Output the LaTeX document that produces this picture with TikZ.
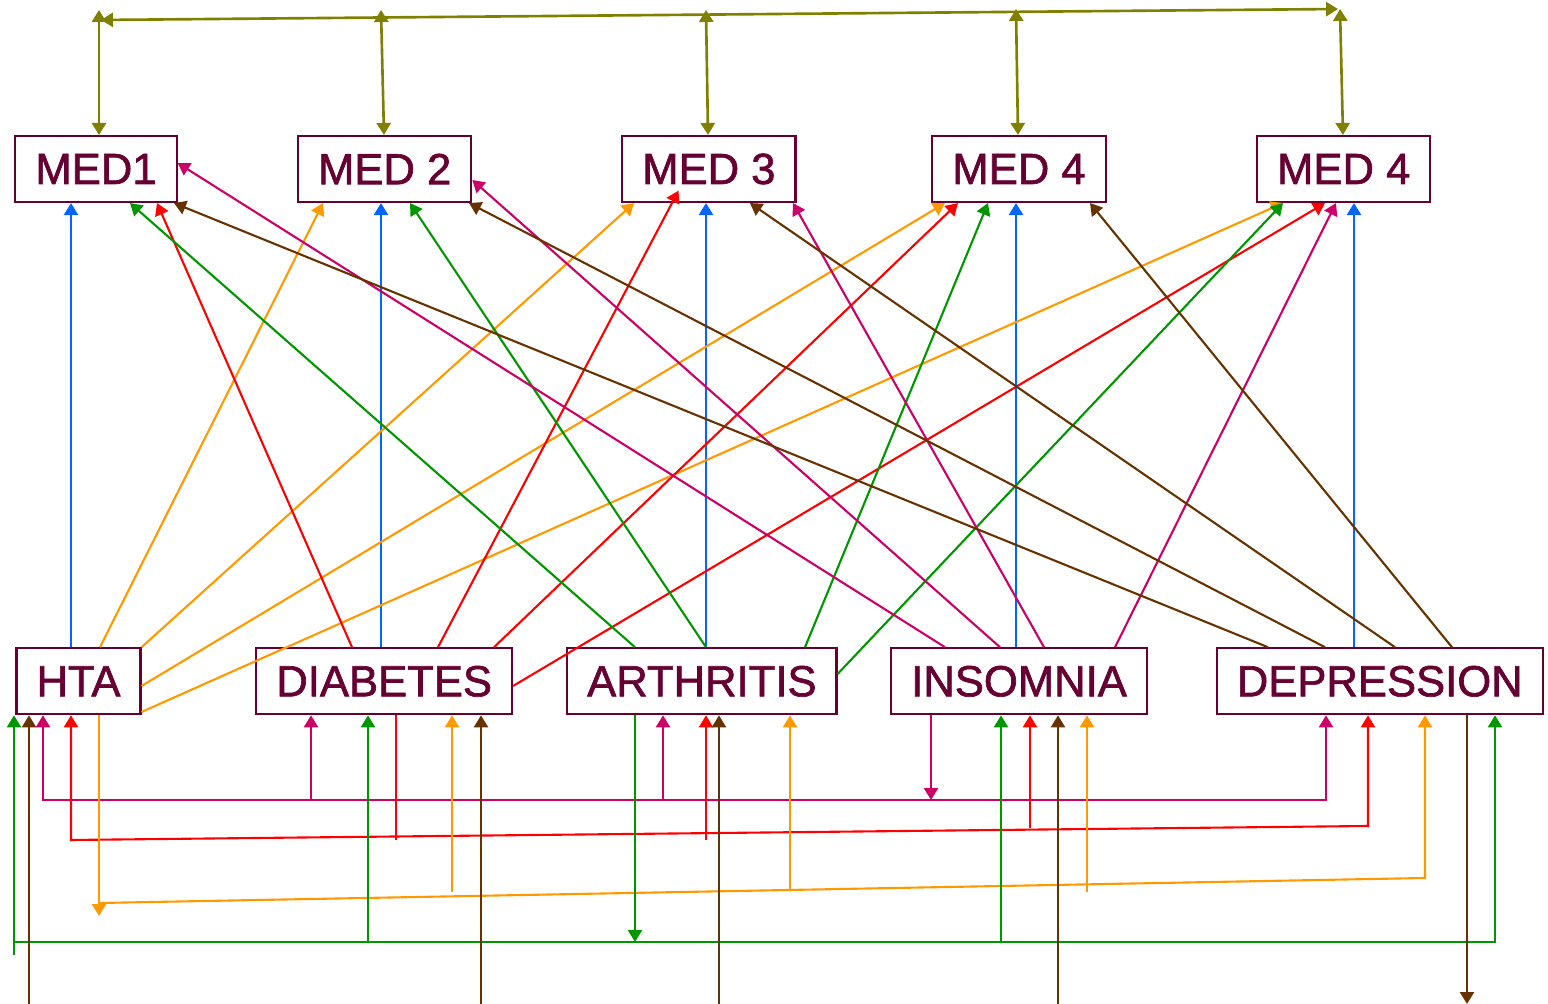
\documentclass[tikz,border=0pt]{standalone}
\usepackage{fontspec}
\setmainfont{Liberation Sans}[FakeBold=1.5]
\usetikzlibrary{arrows.meta,positioning}

\definecolor{wine}{RGB}{102,0,51}
\definecolor{linkblue}{RGB}{0,102,255}
\definecolor{linkorange}{RGB}{255,153,0}
\definecolor{linkred}{RGB}{255,0,0}
\definecolor{linkgreen}{RGB}{0,150,0}
\definecolor{linkmagenta}{RGB}{204,0,102}
\definecolor{linkbrown}{RGB}{102,51,0}
\definecolor{linkolive}{RGB}{128,128,0}

\begin{document}
\begin{tikzpicture}[x=0.01cm,y=-0.01cm,>={Triangle[length=3.4pt,width=4pt]},font=\fontsize{12.4}{14}\selectfont]

    % Define node styles
    \tikzstyle{med_block} = [draw=wine, line width=0.6pt, text=wine, minimum height=0.66cm, inner xsep=0.2cm, text centered]
    \tikzstyle{disease_block} = [draw=wine, line width=0.6pt, text=wine, minimum height=0.66cm, inner xsep=0.2cm, text centered]
    \tikzstyle{olive_link} = [<->, linkolive, line width=0.75pt]
    \tikzstyle{blue_link} = [->, linkblue, line width=0.6pt]
    \tikzstyle{orange_link} = [->, linkorange, line width=0.6pt]
    \tikzstyle{red_link} = [->, linkred, line width=0.6pt]
    \tikzstyle{green_link} = [->, linkgreen, line width=0.6pt]
    \tikzstyle{magenta_link} = [->, linkmagenta, line width=0.6pt]
    \tikzstyle{brown_link} = [->, linkbrown, line width=0.6pt]

    \useasboundingbox (0,0) rectangle (1548,1004);

    % Draw nodes
    \node [med_block] (med1) at (96,169) {MED1};
    \node [med_block, right of=med1, xshift=1.885cm] (med2) {MED 2};
    \node [med_block, right of=med2, xshift=2.24cm] (med3) {MED 3};
    \node [med_block, right of=med3, xshift=2.1cm] (med4a) {MED 4};
    \node [med_block, right of=med4a, xshift=2.245cm] (med4b) {MED 4};

    \node [disease_block, below of=med1, xshift=-0.175cm, yshift=-4.12cm] (hta) {HTA};
    \node [disease_block, right of=hta, xshift=2.055cm] (diabetes) {DIABETES};
    \node [disease_block, right of=diabetes, xshift=2.175cm] (arthritis) {ARTHRITIS};
    \node [disease_block, right of=arthritis, xshift=2.17cm] (insomnia) {INSOMNIA};
    \node [disease_block, right of=insomnia, xshift=2.605cm] (depression) {DEPRESSION};

    % Top links between medicines
    \coordinate (top_left) at (101,20);
    \coordinate (top_right) at (1338,9);
    \draw [olive_link] (top_right) -- (top_left);
    \draw [olive_link] (99,10) -- (med1.north -| 99,0);
    \draw [olive_link] (381,10) -- (med2.north -| 384,0);
    \draw [olive_link] (706,10) -- (med3.north -| 708,0);
    \draw [olive_link] (1016,9) -- (med4a.north -| 1018,0);
    \draw [olive_link] (1340,9) -- (med4b.north -| 1343,0);

    % Draw arrows from diseases to medicines
    \draw [blue_link] (hta.north -| 71,0) -- (med1.south -| 71,0);
    \draw [blue_link] (diabetes.north -| 381,0) -- (med2.south -| 381,0);
    \draw [blue_link] (arthritis.north -| 706,0) -- (med3.south -| 706,0);
    \draw [blue_link] (insomnia.north -| 1016,0) -- (med4a.south -| 1016,0);
    \draw [blue_link] (depression.north -| 1354,0) -- (med4b.south -| 1354,0);

    \draw [orange_link] (hta.north -| 100,0) -- (med2.south -| 323,0);
    \draw [orange_link] (hta.north east) -- (med3.south -| 634,0);
    \draw [orange_link] (hta.east |- 0,686) -- (med4a.south -| 945,0);
    \draw [orange_link] (hta.east |- 0,712) -- (med4b.south -| 1283,0);

    \draw [red_link] (diabetes.north -| 352,0) -- (med1.south -| 157,0);
    \draw [red_link, shorten >=-0.14cm] (diabetes.north -| 438,0) -- (med3.south -| 672,0);
    \draw [red_link] (diabetes.north -| 494,0) -- (med4a.south -| 958,0);
    \draw [red_link] (diabetes.east |- 0,686) -- (med4b.south -| 1325,0);

    \draw [green_link] (arthritis.north -| 635,0) -- (med1.south -| 130,0);
    \draw [green_link] (arthritis.north -| 706,0) -- (med2.south -| 410,0);
    \draw [green_link] (arthritis.north -| 805,0) -- (med4a.south -| 988,0);
    \draw [green_link] (arthritis.east |- 0,674) -- (med4b.south -| 1283,0);

    \draw [magenta_link] (insomnia.north -| 945,0) -- (med1.east |- 0,163);
    \draw [magenta_link] (insomnia.north -| 1000,0) -- (med2.east |- 0,180);
    \draw [magenta_link] (insomnia.north -| 1044,0) -- (med3.south -| 793,0);
    \draw [magenta_link] (insomnia.north -| 1115,0) -- (med4b.south -| 1336,0);

    \draw [brown_link] (depression.north -| 1268,0) -- (med1.south -| 174,0);
    \draw [brown_link] (depression.north -| 1325,0) -- (med2.south -| 469,0);
    \draw [brown_link] (depression.north -| 1395,0) -- (med3.south -| 750,0);
    \draw [brown_link] (depression.north -| 1452,0) -- (med4a.south -| 1090,0);

    % Links between diseases
    \draw [magenta_link] (insomnia.south -| 931,0) -- (931,800);
    \draw [magenta_link, <->] (hta.south -| 43,0) -- (43,800) -- (1326,800) -- (depression.south -| 1326,0);
    \draw [magenta_link] (311,800) -- (diabetes.south -| 311,0);
    \draw [magenta_link] (663,800) -- (arthritis.south -| 663,0);

    \draw [red_link, -] (diabetes.south -| 396,0) -- (396,840);
    \draw [red_link, <->] (hta.south -| 71,0) -- (71,840) -- (1368,826) -- (depression.south -| 1368,0);
    \draw [red_link] (706,840) -- (arthritis.south -| 706,0);
    \draw [red_link] (1030,828) -- (insomnia.south -| 1030,0);

    \draw [orange_link] (hta.south -| 99,0) -- (99,916);
    \draw [orange_link] (99,903) -- (1425,878) -- (depression.south -| 1425,0);
    \draw [orange_link] (452,892) -- (diabetes.south -| 452,0);
    \draw [orange_link] (790,890) -- (arthritis.south -| 790,0);
    \draw [orange_link] (1087,892) -- (insomnia.south -| 1087,0);

    \draw [green_link] (14,955) -- (hta.south -| 14,0);
    \draw [green_link] (14,942) -- (1495,942) -- (depression.south -| 1495,0);
    \draw [green_link] (368,942) -- (diabetes.south -| 368,0);
    \draw [green_link] (arthritis.south -| 635,0) -- (635,942);
    \draw [green_link] (1001,942) -- (insomnia.south -| 1001,0);

    \draw [brown_link] (29,1004) -- (hta.south -| 29,0);
    \draw [brown_link] (481,1004) -- (diabetes.south -| 481,0);
    \draw [brown_link] (719,1004) -- (arthritis.south -| 719,0);
    \draw [brown_link] (1058,1004) -- (insomnia.south -| 1058,0);
    \draw [brown_link] (depression.south -| 1467,0) -- (1467,1004);

\end{tikzpicture}
\end{document}
